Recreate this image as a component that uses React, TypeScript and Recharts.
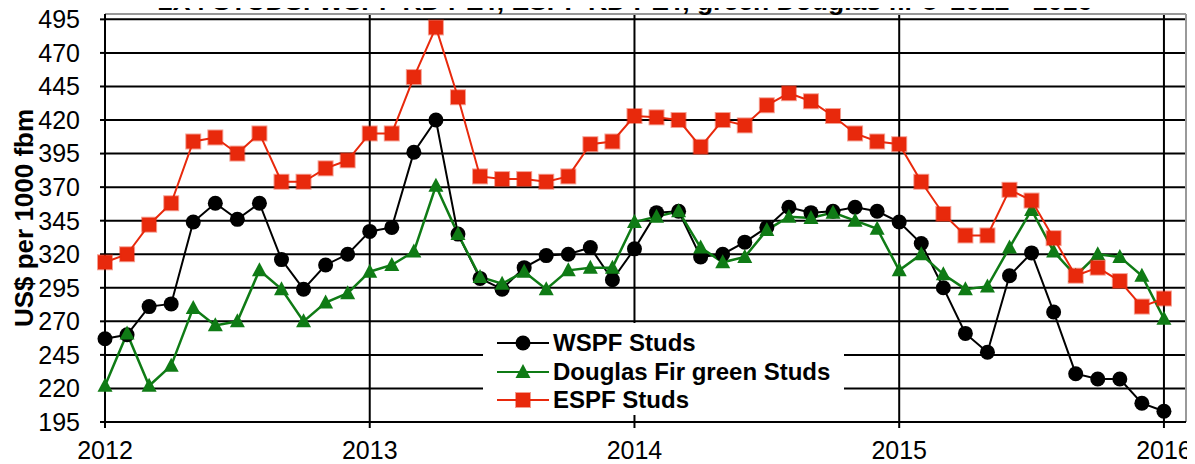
import { LineChart, Line, XAxis, YAxis, CartesianGrid, ReferenceLine, Legend } from "recharts";

const months = [
  "2012-01", "2012-02", "2012-03", "2012-04", "2012-05", "2012-06", "2012-07", "2012-08", "2012-09", "2012-10", "2012-11", "2012-12",
  "2013-01", "2013-02", "2013-03", "2013-04", "2013-05", "2013-06", "2013-07", "2013-08", "2013-09", "2013-10", "2013-11", "2013-12",
  "2014-01", "2014-02", "2014-03", "2014-04", "2014-05", "2014-06", "2014-07", "2014-08", "2014-09", "2014-10", "2014-11", "2014-12",
  "2015-01", "2015-02", "2015-03", "2015-04", "2015-05", "2015-06", "2015-07", "2015-08", "2015-09", "2015-10", "2015-11", "2015-12",
  "2016-01",
];

const yearTicks = [0, 12, 24, 36, 48];
const yearLabels = ["2012", "2013", "2014", "2015", "2016"];
const priceTicks = [195, 220, 245, 270, 295, 320, 345, 370, 395, 420, 445, 470, 495];

const wspfStuds = [
  257, 260, 281, 283, 344, 358, 346, 358, 316, 294, 312, 320,
  337, 340, 396, 420, 335, 302, 294, 310, 319, 320, 325, 301,
  324, 351, 352, 318, 320, 329, 340, 355, 351, 352, 355, 352,
  344, 328, 295, 261, 247, 304, 321, 277, 231, 227, 227, 209,
  203,
];
const douglasFirStuds = [
  222, 261, 222, 237, 280, 267, 270, 308, 294, 270, 284, 291,
  307, 312, 322, 371, 335, 303, 298, 307, 294, 308, 310, 310,
  344, 348, 352, 325, 314, 318, 338, 348, 347, 351, 345, 339,
  308, 320, 305, 294, 296, 325, 353, 322, 304, 320, 318, 304,
  272,
];
const espfStuds = [
  314, 320, 342, 358, 404, 407, 395, 410, 374, 374, 384, 390,
  410, 410, 452, 489, 437, 378, 376, 376, 374, 378, 402, 404,
  423, 422, 420, 400, 420, 416, 431, 440, 434, 423, 410, 404,
  402, 374, 350, 334, 334, 368, 360, 332, 304, 310, 300, 281,
  287,
];

const FONT = "'Liberation Sans', Arial, sans-serif";

type Shape = "circle" | "triangle" | "square";

const series: { key: string; name: string; color: string; shape: Shape; width: number }[] = [
  { key: "wspf", name: "WSPF Studs", color: "#000000", shape: "circle", width: 2 },
  { key: "dfir", name: "Douglas Fir green Studs", color: "#0F7B15", shape: "triangle", width: 2.5 },
  { key: "espf", name: "ESPF Studs", color: "#E8290C", shape: "square", width: 2 },
];

const data = months.map((month, i) => ({
  t: i,
  month,
  wspf: wspfStuds[i],
  dfir: douglasFirStuds[i],
  espf: espfStuds[i],
}));

const Marker = ({ cx, cy, shape, color }: { cx: number; cy: number; shape: Shape; color: string }) => {
  if (shape === "circle") return <circle cx={cx} cy={cy} r={7.5} fill={color} />;
  if (shape === "square")
    return (
      <rect
        x={cx - 7}
        y={cy - 7}
        width={14}
        height={14}
        fill={color}
        stroke={color}
        strokeOpacity={0.45}
        strokeWidth={2}
      />
    );
  return <polygon points={`${cx},${cy - 8} ${cx + 7.5},${cy + 6} ${cx - 7.5},${cy + 6}`} fill={color} />;
};

// legend drawn by hand so the order stays as in the original
const LegendBox = () => (
  <div
    style={{
      background: "#fff",
      width: 361,
      height: 92,
      paddingLeft: 14,
      paddingTop: 6,
      boxSizing: "border-box",
    }}
  >
    {series.map((s) => (
      <div key={s.key} style={{ display: "flex", alignItems: "center", height: 28.5 }}>
        <svg width={52} height={20} style={{ display: "block" }}>
          <line x1={0} y1={10} x2={52} y2={10} stroke={s.color} strokeWidth={2} />
          <Marker cx={26} cy={10} shape={s.shape} color={s.color} />
        </svg>
        <span style={{ marginLeft: 4, fontFamily: FONT, fontWeight: "bold", fontSize: 24, color: "#000" }}>
          {s.name}
        </span>
      </div>
    ))}
  </div>
);

const App = () => {
  return (
    <div
      style={{
        position: "relative",
        width: 1195,
        height: 464,
        marginTop: -8,
        marginLeft: -8,
        background: "#fff",
      }}
    >
      <LineChart
        width={1195}
        height={464}
        data={data}
        margin={{ top: 14, right: 9, bottom: 2, left: 45 }}
      >
        <CartesianGrid stroke="#000" strokeWidth={2} horizontalValues={priceTicks} verticalValues={yearTicks} />
        <XAxis
          dataKey="t"
          type="number"
          domain={[0, 49]}
          ticks={yearTicks}
          interval={0}
          height={40}
          tickFormatter={(v: number) => yearLabels[yearTicks.indexOf(v)]}
          axisLine={{ stroke: "#000", strokeWidth: 2 }}
          tickLine={{ stroke: "#000", strokeWidth: 2 }}
          tickSize={6}
          tickMargin={13}
          tick={{ fill: "#000", fontSize: 25, fontFamily: FONT }}
        />
        <YAxis
          type="number"
          domain={[195, 499]}
          ticks={priceTicks}
          interval={0}
          width={60}
          axisLine={{ stroke: "#000", strokeWidth: 2 }}
          tickLine={{ stroke: "#000", strokeWidth: 2 }}
          tickSize={5}
          tickMargin={20}
          tick={{ fill: "#000", fontSize: 25, fontFamily: FONT }}
        />
        <ReferenceLine y={499} stroke="#999" strokeWidth={2} />
        <ReferenceLine x={49} stroke="#999" strokeWidth={2} />
        <Legend
          layout="vertical"
          align="center"
          verticalAlign="middle"
          content={() => <LegendBox />}
          wrapperStyle={{ left: 483, top: 323, width: 361, height: 92 }}
        />
        {series.map((s) => (
          <Line
            key={s.key}
            dataKey={s.key}
            name={s.name}
            stroke={s.color}
            strokeWidth={s.width}
            isAnimationActive={false}
            dot={(p: any) => (
              <Marker key={`${s.key}-${p.index}`} cx={p.cx} cy={p.cy} shape={s.shape} color={s.color} />
            )}
            activeDot={false}
          />
        ))}
      </LineChart>
      <svg
        width={1195}
        height={464}
        style={{ position: "absolute", left: 0, top: 0, pointerEvents: "none" }}
      >
        <text x={158} y={10} fontFamily={FONT} fontWeight="bold" fontSize={26.5} fill="#000">
          2X4 STUDS: WSPF KD PET, ESPF KD PET, green Douglas fir 8' 2012 - 2016
        </text>
        <text
          x={33}
          y={218}
          transform="rotate(-90, 33, 218)"
          textAnchor="middle"
          fontFamily={FONT}
          fontWeight="bold"
          fontSize={26}
          fill="#000"
        >
          US$ per 1000 fbm
        </text>
      </svg>
    </div>
  );
};

export default App;
